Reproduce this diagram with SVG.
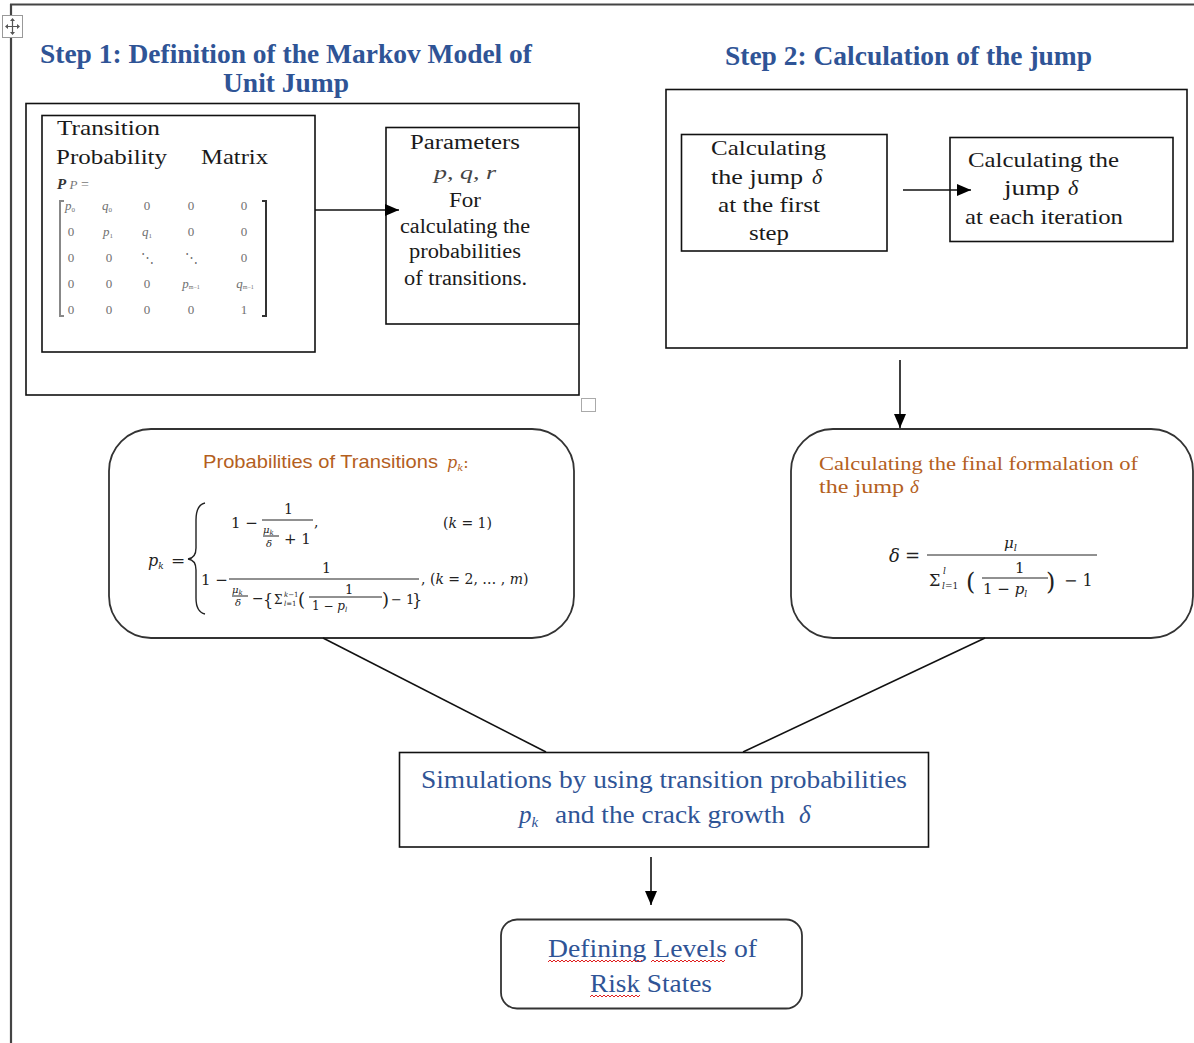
<svg xmlns="http://www.w3.org/2000/svg" width="1194" height="1043" viewBox="0 0 1194 1043">
<defs>
<marker id="ah" markerWidth="14" markerHeight="12" refX="14" refY="6" orient="auto" markerUnits="userSpaceOnUse">
<path d="M0,0 L14,6 L0,12 Z" fill="#000"/>
</marker>
<style>
.box{fill:#fff;stroke:#111;stroke-width:1.6}
.rbox{fill:#fff;stroke:#333;stroke-width:1.8}
.ttl{font-family:"Liberation Serif",serif;font-weight:bold;font-size:27px;fill:#2F5496}
.ser{font-family:"Liberation Serif",serif;fill:#1a1a1a}
.blue{font-family:"Liberation Serif",serif;fill:#2F5496;font-size:25px}
.org{fill:#B45F1E}
.mat{font-family:"Liberation Serif",serif;font-size:13px;fill:#6f6f6f;text-anchor:middle}
.mth{font-family:"DejaVu Serif","Liberation Serif",serif;fill:#222}
.it{font-style:italic}
.ln{stroke:#111;stroke-width:1.6;fill:none}
.bar{stroke:#222;stroke-width:1}
.wavy{stroke:#E02020;stroke-width:1;fill:none}
</style>
</defs>
<rect width="1194" height="1043" fill="#fff"/>

<!-- page frame -->
<g id="page-frame">
<line x1="10" y1="4.5" x2="1194" y2="4.5" stroke="#444" stroke-width="2"/>
<line x1="11" y1="4" x2="11" y2="1043" stroke="#444" stroke-width="2.2"/>
<rect x="2.5" y="15.5" width="20" height="22" fill="#fff" stroke="#999" stroke-width="1"/>
<path d="M12.5,19 V34 M6,26.5 H19" stroke="#555" stroke-width="1.2"/>
<path d="M12.5,18 l-2.5,3 h5 z M12.5,35 l-2.5,-3 h5 z M5,26.5 l3,-2.5 v5 z M20,26.5 l-3,-2.5 v5 z" fill="#555"/>
<rect x="581.5" y="398.5" width="14" height="13" fill="#fff" stroke="#aaa" stroke-width="1"/>
</g>

<!-- titles -->
<g id="title-step1">
<text class="ttl" x="40" y="63" textLength="492" lengthAdjust="spacingAndGlyphs">Step 1: Definition of the Markov Model of</text>
<text class="ttl" x="223" y="92" textLength="126" lengthAdjust="spacingAndGlyphs">Unit Jump</text>
</g>
<g id="title-step2">
<text class="ttl" x="725" y="65" textLength="367" lengthAdjust="spacingAndGlyphs">Step 2: Calculation of the jump</text>
</g>

<!-- Step 1 container -->
<g id="step1-container">
<rect class="box" x="26" y="103.5" width="553" height="291.5"/>
</g>

<!-- Transition probability matrix -->
<g id="node-matrix">
<rect class="box" x="42" y="115.5" width="273" height="236.5"/>
<text class="ser" x="57" y="135" font-size="22" textLength="103" lengthAdjust="spacingAndGlyphs">Transition</text>
<text class="ser" x="56" y="164" font-size="22" textLength="111" lengthAdjust="spacingAndGlyphs">Probability</text>
<text class="ser" x="201" y="164" font-size="22" textLength="67" lengthAdjust="spacingAndGlyphs">Matrix</text>
<text x="57" y="189" font-family="Liberation Serif,serif" font-size="15"><tspan font-weight="bold" font-style="italic" fill="#333">P</tspan><tspan fill="#777" font-style="italic" font-size="13"> P</tspan><tspan fill="#777" font-size="14"> =</tspan></text>
<path d="M64,201 H60 V316 H64" stroke="#888" stroke-width="2" fill="none"/>
<path d="M262,201 H266 V316 H262" stroke="#333" stroke-width="2" fill="none"/>
<g class="mat">
<text x="70" y="210"><tspan class="it">p</tspan><tspan font-size="7" dy="2">0</tspan></text>
<text x="107" y="210"><tspan class="it">q</tspan><tspan font-size="7" dy="2">0</tspan></text>
<text x="147" y="210">0</text><text x="191" y="210">0</text><text x="244" y="210">0</text>
<text x="71" y="236">0</text>
<text x="108" y="236"><tspan class="it">p</tspan><tspan font-size="7" dy="2">1</tspan></text>
<text x="147" y="236"><tspan class="it">q</tspan><tspan font-size="7" dy="2">1</tspan></text>
<text x="191" y="236">0</text><text x="244" y="236">0</text>
<text x="71" y="262">0</text><text x="109" y="262">0</text><text x="147" y="262">⋱</text><text x="191" y="262">⋱</text><text x="244" y="262">0</text>
<text x="71" y="288">0</text><text x="109" y="288">0</text><text x="147" y="288">0</text>
<text x="191" y="288"><tspan class="it">p</tspan><tspan font-size="6" dy="1">m−1</tspan></text>
<text x="245" y="288"><tspan class="it">q</tspan><tspan font-size="6" dy="1">m−1</tspan></text>
<text x="71" y="314">0</text><text x="109" y="314">0</text><text x="147" y="314">0</text><text x="191" y="314">0</text><text x="244" y="314">1</text>
</g>
</g>

<!-- Parameters -->
<g id="node-parameters">
<rect class="box" x="386" y="127.5" width="193" height="196.5"/>
<g class="ser" font-size="20">
<text x="410" y="149" textLength="110" lengthAdjust="spacingAndGlyphs">Parameters</text>
<text x="434" y="179" font-style="italic" font-size="18" fill="#444" textLength="62" lengthAdjust="spacingAndGlyphs">p, q, r</text>
<text x="449" y="207" textLength="32" lengthAdjust="spacingAndGlyphs">For</text>
<text x="400" y="233" textLength="130" lengthAdjust="spacingAndGlyphs">calculating the</text>
<text x="409" y="258" textLength="112" lengthAdjust="spacingAndGlyphs">probabilities</text>
<text x="404" y="285" textLength="123" lengthAdjust="spacingAndGlyphs">of transitions.</text>
</g>
</g>

<!-- Step 2 container -->
<g id="step2-container">
<rect class="box" x="666" y="89.5" width="521" height="258.5"/>
</g>

<g id="node-jump-first">
<rect class="box" x="681.5" y="134.5" width="205.5" height="116.5"/>
<g class="ser" font-size="22">
<text x="711" y="155" textLength="115" lengthAdjust="spacingAndGlyphs">Calculating</text>
<text x="711" y="184" textLength="92" lengthAdjust="spacingAndGlyphs">the jump</text>
<text x="812" y="184" font-style="italic">δ</text>
<text x="718" y="212" textLength="102" lengthAdjust="spacingAndGlyphs">at the first</text>
<text x="749" y="240" textLength="40" lengthAdjust="spacingAndGlyphs">step</text>
</g>
</g>

<g id="node-jump-each">
<rect class="box" x="950" y="137.5" width="223" height="104"/>
<g class="ser" font-size="22">
<text x="968" y="167" textLength="151" lengthAdjust="spacingAndGlyphs">Calculating the</text>
<text x="1004" y="195" textLength="56" lengthAdjust="spacingAndGlyphs">jump</text>
<text x="1068" y="195" font-style="italic">δ</text>
<text x="965" y="224" textLength="158" lengthAdjust="spacingAndGlyphs">at each iteration</text>
</g>
</g>

<!-- Probabilities of transitions -->
<g id="node-probabilities">
<rect class="rbox" x="109" y="429" width="465" height="209" rx="42" ry="42"/>
<text x="203" y="468" font-family="Liberation Sans,Arial,sans-serif" font-size="19" class="org" textLength="235" lengthAdjust="spacingAndGlyphs">Probabilities of Transitions</text>
<text x="447" y="468" font-family="DejaVu Serif,serif" font-size="16" font-style="italic" class="org">p<tspan font-size="10" dy="3">k</tspan><tspan dy="-3" font-style="normal">:</tspan></text>
<g class="mth">
<text x="148" y="566" font-size="16" font-style="italic">p<tspan font-size="9" dy="3">k</tspan></text>
<text x="171" y="566" font-size="17">=</text>
<path d="M205,503 Q196,505 196,520 L196,548 Q196,558 188,559 Q196,560 196,570 L196,598 Q196,612 205,614" stroke="#222" stroke-width="1.4" fill="none"/>
<!-- row 1 -->
<text x="231" y="528" font-size="15">1 −</text>
<text x="284" y="514" font-size="14">1</text>
<line class="bar" x1="262" y1="520" x2="313" y2="520"/>
<text x="263" y="533" font-size="10" font-style="italic">μ<tspan font-size="7" dy="2">k</tspan></text>
<line class="bar" x1="263" y1="536" x2="279" y2="536" stroke-width="0.8"/>
<text x="266" y="547" font-size="10" font-style="italic">δ</text>
<text x="284" y="544" font-size="15">+ 1</text>
<text x="314" y="527" font-size="14">,</text>
<text x="443" y="528" font-size="14">(<tspan font-style="italic">k</tspan> = 1)</text>
<!-- row 2 -->
<text x="201" y="585" font-size="15">1 −</text>
<text x="322" y="573" font-size="14">1</text>
<line class="bar" x1="229" y1="579" x2="419" y2="579"/>
<text x="232" y="593" font-size="10" font-style="italic">μ<tspan font-size="7" dy="2">k</tspan></text>
<line class="bar" x1="232" y1="596" x2="248" y2="596" stroke-width="0.8"/>
<text x="235" y="606" font-size="10" font-style="italic">δ</text>
<text x="252" y="603" font-size="14">−</text>
<text x="263" y="606" font-size="16">{</text>
<text x="274" y="604" font-size="12">Σ</text>
<text x="284" y="597" font-size="7"><tspan font-style="italic">k</tspan>−1</text>
<text x="284" y="606" font-size="7"><tspan font-style="italic">l</tspan>=1</text>
<text x="298" y="606" font-size="18">(</text>
<text x="345" y="594" font-size="13">1</text>
<line class="bar" x1="309" y1="597" x2="382" y2="597" stroke-width="0.9"/>
<text x="312" y="610" font-size="12">1 − <tspan font-style="italic">p</tspan><tspan font-size="7" dy="2" font-style="italic">l</tspan></text>
<text x="382" y="606" font-size="18">)</text>
<text x="391" y="604" font-size="13">− 1</text>
<text x="412" y="606" font-size="16">}</text>
<text x="421" y="584" font-size="14">,  (<tspan font-style="italic">k</tspan> = 2, … , <tspan font-style="italic">m</tspan>)</text>
</g>
</g>

<!-- Final formulation of jump -->
<g id="node-final-jump">
<rect class="rbox" x="791" y="429" width="402" height="209" rx="42" ry="42"/>
<g font-family="Liberation Serif,serif" font-size="19" class="org">
<text x="819" y="470" textLength="319" lengthAdjust="spacingAndGlyphs">Calculating the final formalation of</text>
<text x="819" y="493" textLength="85" lengthAdjust="spacingAndGlyphs">the jump</text>
<text x="910" y="493" font-style="italic">δ</text>
</g>
<g class="mth">
<text x="889" y="562" font-size="18" font-style="italic">δ</text>
<text x="905" y="562" font-size="18">=</text>
<text x="1004" y="548" font-size="15" font-style="italic">μ<tspan font-size="10" dy="3">l</tspan></text>
<line class="bar" x1="927" y1="555" x2="1097" y2="555"/>
<text x="929" y="586" font-size="16">Σ</text>
<text x="943" y="574" font-size="9" font-style="italic">l</text>
<text x="942" y="589" font-size="9"><tspan font-style="italic">l</tspan>=1</text>
<text x="966" y="590" font-size="24">(</text>
<text x="1015" y="573" font-size="15">1</text>
<line class="bar" x1="982" y1="578" x2="1048" y2="578"/>
<text x="983" y="594" font-size="15">1 − <tspan font-style="italic">p</tspan><tspan font-size="9" dy="3" font-style="italic">l</tspan></text>
<text x="1046" y="590" font-size="24">)</text>
<text x="1064" y="586" font-size="16">− 1</text>
</g>
</g>

<!-- Simulations -->
<g id="node-simulations">
<rect class="box" x="399.5" y="752.5" width="529" height="94.5"/>
<text class="blue" x="421" y="788" textLength="486" lengthAdjust="spacingAndGlyphs">Simulations by using transition probabilities</text>
<text class="blue" x="519" y="823" font-style="italic">p<tspan font-size="15" dy="4">k</tspan></text>
<text class="blue" x="555" y="823" textLength="230" lengthAdjust="spacingAndGlyphs">and the crack growth</text>
<text class="blue" x="799" y="823" font-style="italic">δ</text>
</g>

<!-- Defining levels -->
<g id="node-risk-levels">
<rect class="rbox" x="501" y="919.5" width="301" height="89" rx="16" ry="16"/>
<text class="blue" x="548" y="957" textLength="209" lengthAdjust="spacingAndGlyphs">Defining Levels of</text>
<text class="blue" x="590" y="992" textLength="122" lengthAdjust="spacingAndGlyphs">Risk States</text>
<path class="wavy" d="M548,962 l2,-2 l2,2 l2,-2 l2,2 l2,-2 l2,2 l2,-2 l2,2 l2,-2 l2,2 l2,-2 l2,2 l2,-2 l2,2 l2,-2 l2,2 l2,-2 l2,2 l2,-2 l2,2 l2,-2 l2,2 l2,-2 l2,2 l2,-2 l2,2 l2,-2 l2,2 l2,-2 l2,2 l2,-2 l2,2 l2,-2 l2,2 l2,-2 l2,2 l2,-2 l2,2 l2,-2 l2,2 l2,-2 l2,2 l2,-2 l2,2 l2,-2 l2,2 l2,-2"/>
<path class="wavy" d="M651,962 l2,-2 l2,2 l2,-2 l2,2 l2,-2 l2,2 l2,-2 l2,2 l2,-2 l2,2 l2,-2 l2,2 l2,-2 l2,2 l2,-2 l2,2 l2,-2 l2,2 l2,-2 l2,2 l2,-2 l2,2 l2,-2 l2,2 l2,-2 l2,2 l2,-2 l2,2 l2,-2 l2,2 l2,-2 l2,2 l2,-2 l2,2 l2,-2 l2,2 l2,-2"/>
<path class="wavy" d="M590,997 l2,-2 l2,2 l2,-2 l2,2 l2,-2 l2,2 l2,-2 l2,2 l2,-2 l2,2 l2,-2 l2,2 l2,-2 l2,2 l2,-2 l2,2 l2,-2 l2,2 l2,-2 l2,2 l2,-2 l2,2 l2,-2 l2,2 l2,-2"/>
</g>

<!-- connectors -->
<g id="connectors">
<line class="ln" x1="315" y1="210" x2="399" y2="210" marker-end="url(#ah)"/>
<line class="ln" x1="903" y1="190" x2="971" y2="190" marker-end="url(#ah)"/>
<line class="ln" x1="900" y1="360" x2="900" y2="428" marker-end="url(#ah)"/>
<line class="ln" x1="323" y1="638" x2="546" y2="752"/>
<line class="ln" x1="985" y1="638" x2="743" y2="752"/>
<line class="ln" x1="651" y1="857" x2="651" y2="905" marker-end="url(#ah)"/>
</g>
</svg>
